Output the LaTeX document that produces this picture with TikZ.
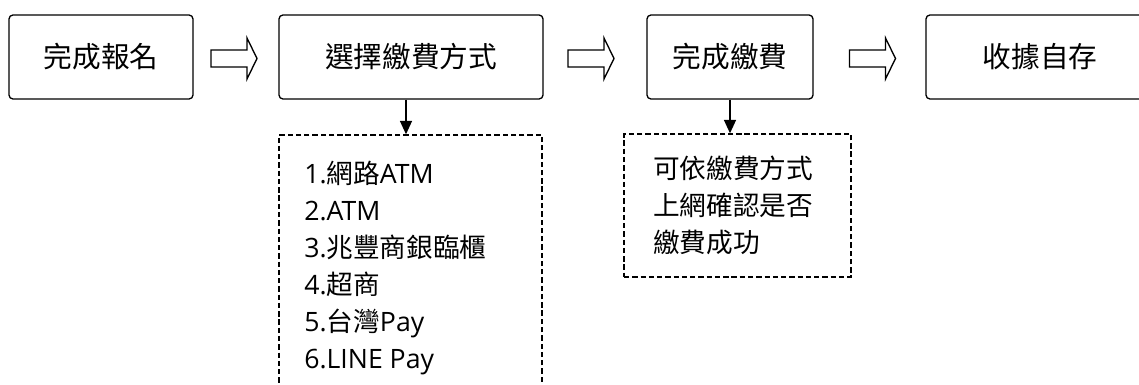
\documentclass[tikz,border=0pt]{standalone}
\usepackage{fontspec}
\setmainfont{Noto Sans CJK TC}
\newfontfamily\lat{Open Sans}
\usetikzlibrary{arrows.meta}
\begin{document}
\begin{tikzpicture}[x=0.75pt,y=-0.75pt,
  stage/.style={draw, line width=1pt, rounded corners=3pt, minimum height=63pt, inner sep=0pt,
    font=\fontsize{21.5pt}{26pt}\selectfont},
  notebox/.style={draw, line width=1.1pt, dash pattern=on 4pt off 2.2pt, inner sep=0pt},
  listtext/.style={inner sep=0pt, align=left, font=\fontsize{20pt}{27.75pt}\selectfont},
  downarrow/.style={line width=1pt, -{Triangle[width=9pt,length=10pt]}},
  hollow/.pic={\draw[line width=1pt, line join=miter, fill=white]
     (-23,-8.5) -- (13,-8.5) -- (13,-20.5) -- (23,0) -- (13,20.5) -- (13,8.5) -- (-23,8.5) -- cycle;}
]
\useasboundingbox (0,0) rectangle (1139,385);
\clip (0,0) rectangle (1139,385);
\fill[white] (0,0) rectangle (1139,385);

\node[stage, minimum width=138pt] (b1) at (101,57) {完成報名};
\node[stage, minimum width=198pt] (b2) at (411,57) {選擇繳費方式};
\node[stage, minimum width=124.5pt] (b3) at (730,57) {完成繳費};
\node[stage, minimum width=171pt] (b4) at (1040,57) {收據自存};

\pic at (234,58.5) {hollow};
\pic at (591,58.5) {hollow};
\pic at (872.5,58.5) {hollow};

\node[notebox, minimum width=197.25pt, minimum height=198.75pt] (n1) at (410.5,267.5) {};
\node[notebox, minimum width=170.25pt, minimum height=107.25pt] (n2) at (737.5,205.5) {};

\node[listtext, anchor=west] (t1) at (304,267.5)
  {{\lat 1.}網路{\lat ATM}\\ {\lat 2.ATM}\\ {\lat 3.}兆豐商銀臨櫃\\ {\lat 4.}超商\\ {\lat 5.}台灣{\lat Pay}\\ {\lat 6.LINE Pay}};
\node[listtext, anchor=west] (t2) at (653,205)
  {可依繳費方式\\ 上網確認是否\\ 繳費成功};

\draw[downarrow] ([xshift=-3.75pt]b2.south) -- ([xshift=-3.75pt]b2.south |- n1.north);
\draw[downarrow] (b3.south) -- (b3.south |- n2.north);
\end{tikzpicture}
\end{document}
